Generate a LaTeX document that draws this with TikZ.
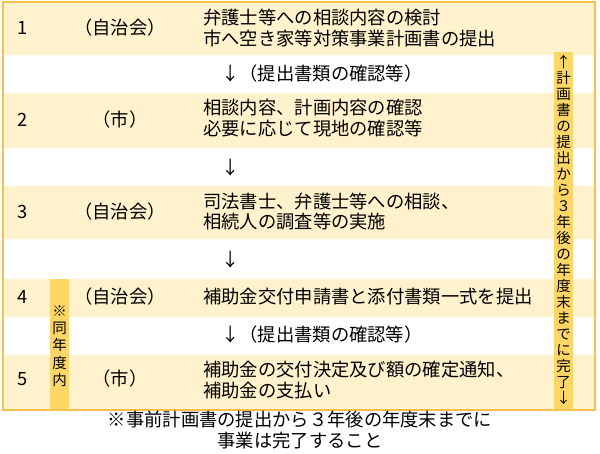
\documentclass[tikz,border=0pt]{standalone}
\usepackage{fontspec}
\setmainfont{Noto Sans CJK JP}
\begin{document}
\begin{tikzpicture}[x=1pt,y=-1pt]
\definecolor{rowfill}{HTML}{FFF2CC}
\definecolor{framecol}{HTML}{F4C24A}
\definecolor{barfill}{HTML}{FDD668}
\tikzset{
  band/.style={fill=rowfill, draw=none},
  vbar/.style={fill=barfill, draw=none},
  txt/.style={font=\fontsize{18.3}{20.5}\selectfont, inner sep=0pt},
  num/.style={txt, anchor=center},
  who/.style={txt, anchor=center},
  body/.style={txt, align=left, anchor=west},
  arrowtxt/.style={txt, anchor=west},
  vtextR/.style={font=\fontsize{14.5}{16}\selectfont, align=center, inner sep=0pt},
  vtextL/.style={font=\fontsize{14.5}{17.25}\selectfont, align=center, inner sep=0pt},
  caption/.style={txt, align=center}
}
\useasboundingbox (0,0) rectangle (600,454);
\fill[white] (0,0) rectangle (600,454);
% bands
\path[band] (3,2) rectangle (595,55);
\path[band] (3,93) rectangle (595,148);
\path[band] (3,186) rectangle (595,239);
\path[band] (3,279) rectangle (595,317);
\path[band] (3,355) rectangle (595,409);
% vertical bars
\path[vbar] (554,52) rectangle (573,409);
\path[vbar] (50,279) rectangle (69,409);
% frame
\draw[framecol, line width=2pt] (3,2) rectangle (595,409.5);
% row 1
\node[num] (n1) at (23,28) {1};
\node[who] (w1) at (120,28) {（自治会）};
\node[body] (b1) at (203,28) {弁護士等への相談内容の検討\\市へ空き家等対策事業計画書の提出};
\node[arrowtxt] (a1) at (221,74) {↓（提出書類の確認等）};
% row 2
\node[num] (n2) at (23,120) {2};
\node[who] (w2) at (120,120) {（市）};
\node[body] (b2) at (203,118) {相談内容、計画内容の確認\\必要に応じて現地の確認等};
\node[arrowtxt] (a2) at (221,168) {↓};
% row 3
\node[num] (n3) at (23,212) {3};
\node[who] (w3) at (120,212) {（自治会）};
\node[body] (b3) at (203,211.5) {司法書士、弁護士等への相談、\\相続人の調査等の実施};
\node[arrowtxt] (a3) at (221,260) {↓};
% row 4
\node[num] (n4) at (23,297) {4};
\node[who] (w4) at (120,297) {（自治会）};
\node[body] (b4) at (203,297) {補助金交付申請書と添付書類一式を提出};
\node[arrowtxt] (a4) at (221,335) {↓（提出書類の確認等）};
% row 5
\node[num] (n5) at (23,379) {5};
\node[who] (w5) at (120,379) {（市）};
\node[body] (b5) at (203,380) {補助金の交付決定及び額の確定通知、\\補助金の支払い};
% vertical texts
\node[vtextR] (vr) at (563.5,230) {↑\\計\\画\\書\\の\\提\\出\\か\\ら\\３\\年\\後\\の\\年\\度\\末\\ま\\で\\に\\完\\了\\↓};
\node[vtextL] (vl) at (59.5,346) {※\\同\\年\\度\\内};
% caption
\node[caption] (cap) at (300,430) {※事前計画書の提出から３年後の年度末までに\\事業は完了すること};
\end{tikzpicture}
\end{document}
